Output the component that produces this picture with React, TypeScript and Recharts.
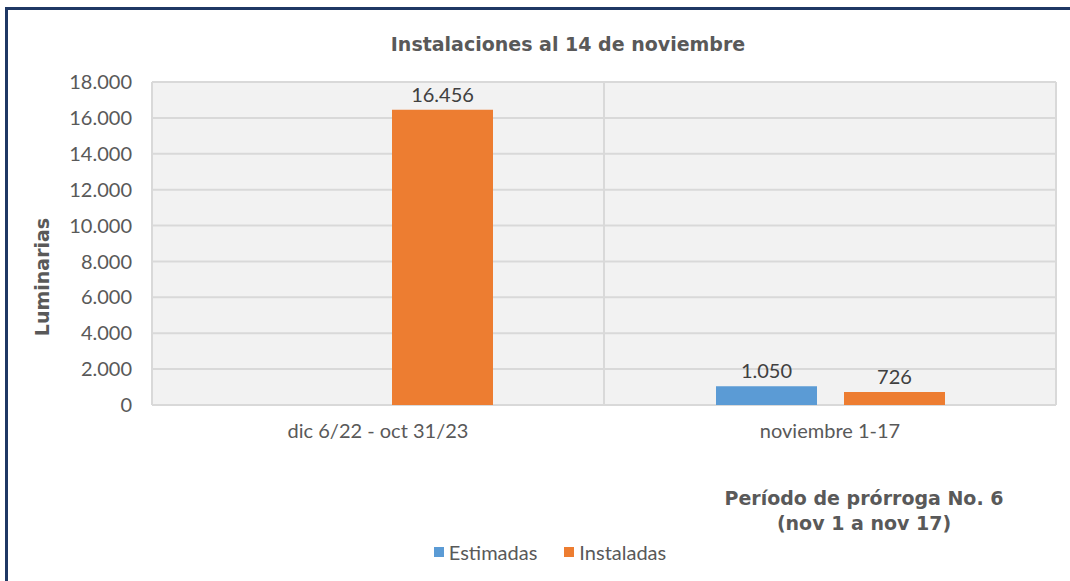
import React from "react";
import {
  BarChart,
  Bar,
  XAxis,
  YAxis,
  CartesianGrid,
  Legend,
  LabelList,
  Label,
} from "recharts";

const categories = ["dic 6/22 - oct 31/23", "noviembre 1-17"];
const estimadas: (number | null)[] = [null, 1050];
const instaladas = [16456, 726];
const yTicks = [0, 2000, 4000, 6000, 8000, 10000, 12000, 14000, 16000, 18000];

const data = categories.map((name, i) => ({
  name,
  estimadas: estimadas[i],
  instaladas: instaladas[i],
}));

const BLUE = "#5b9bd5";
const ORANGE = "#ed7d31";
const TEXT = "#595959";
const GRID = "#d9d9d9";
const BODY_FONT = "Lato, 'Open Sans', sans-serif";
const HEAD_FONT = "'DejaVu Sans', sans-serif";

function fmt(v: any) {
  if (v === null || v === undefined || v === "") return "";
  return Number(v).toLocaleString("de-DE");
}

function LegendContent() {
  const items = [
    { label: "Estimadas", color: BLUE },
    { label: "Instaladas", color: ORANGE },
  ];
  return (
    <div
      style={{
        display: "flex",
        justifyContent: "center",
        gap: 27,
        fontFamily: BODY_FONT,
        fontSize: 20,
        color: TEXT,
      }}
    >
      {items.map((it) => (
        <div key={it.label} style={{ display: "flex", alignItems: "center" }}>
          <span
            style={{
              width: 10,
              height: 10,
              background: it.color,
              display: "inline-block",
              marginRight: 5,
            }}
          />
          {it.label}
        </div>
      ))}
    </div>
  );
}

export default function App() {
  return (
    <div
      style={{
        position: "fixed",
        left: 0,
        top: 0,
        width: 1070,
        height: 581,
        background: "#fff",
        overflow: "hidden",
      }}
    >
      {/* frame */}
      <div
        style={{
          position: "absolute",
          left: 5,
          top: 7,
          width: 1100,
          height: 600,
          borderLeft: "3px solid #1f3864",
          borderTop: "3px solid #1f3864",
        }}
      />

      {/* title */}
      <div
        style={{
          position: "absolute",
          left: 0,
          top: 33,
          width: 1136,
          textAlign: "center",
          fontFamily: HEAD_FONT,
          fontWeight: "bold",
          fontSize: 19,
          color: TEXT,
        }}
      >
        Instalaciones al 14 de noviembre
      </div>

      <BarChart
        width={1070}
        height={581}
        data={data}
        margin={{ top: 82, right: 14, left: 0, bottom: 136 }}
        barGap={27}
        barSize={101}
      >
        <CartesianGrid
          fill="#f2f2f2"
          stroke={GRID}
          strokeWidth={2}
          horizontalValues={yTicks}
          verticalCoordinatesGenerator={({ offset }: any) => [
            offset.left,
            offset.left + offset.width / 2,
            offset.left + offset.width,
          ]}
        />
        <XAxis
          dataKey="name"
          axisLine={false}
          tickLine={false}
          tickSize={0}
          tickMargin={19}
          height={40}
          tick={{ fill: TEXT, fontSize: 20, fontFamily: BODY_FONT }}
        />
        <YAxis
          width={152}
          domain={[0, 18000]}
          ticks={yTicks}
          axisLine={false}
          tickLine={false}
          tickSize={0}
          tickMargin={20}
          tickFormatter={fmt}
          tick={{ fill: TEXT, fontSize: 20, fontFamily: BODY_FONT }}
        >
          <Label
            content={() => (
              <text
                x={49}
                y={277}
                transform="rotate(-90 49 277)"
                textAnchor="middle"
                fill={TEXT}
                fontSize={19}
                fontWeight="bold"
                fontFamily={HEAD_FONT}
              >
                Luminarias
              </text>
            )}
          />
        </YAxis>
        <Legend
          verticalAlign="middle"
          align="center"
          content={<LegendContent />}
          wrapperStyle={{ top: 540, left: 0, width: 1100 }}
        />
        <Bar dataKey="estimadas" name="Estimadas" fill={BLUE} isAnimationActive={false}>
          <LabelList
            dataKey="estimadas"
            position="top"
            offset={8}
            formatter={fmt}
            fill="#404040"
            fontSize={20}
            fontFamily={BODY_FONT}
          />
        </Bar>
        <Bar dataKey="instaladas" name="Instaladas" fill={ORANGE} isAnimationActive={false}>
          <LabelList
            dataKey="instaladas"
            position="top"
            offset={8}
            formatter={fmt}
            fill="#404040"
            fontSize={20}
            fontFamily={BODY_FONT}
          />
        </Bar>
      </BarChart>

      {/* secondary note */}
      <div
        style={{
          position: "absolute",
          left: 664,
          top: 486,
          width: 400,
          textAlign: "center",
          fontFamily: HEAD_FONT,
          fontWeight: "bold",
          fontSize: 19,
          lineHeight: "25px",
          color: TEXT,
        }}
      >
        Período de prórroga No. 6
        <br />
        (nov 1 a nov 17)
      </div>
    </div>
  );
}
